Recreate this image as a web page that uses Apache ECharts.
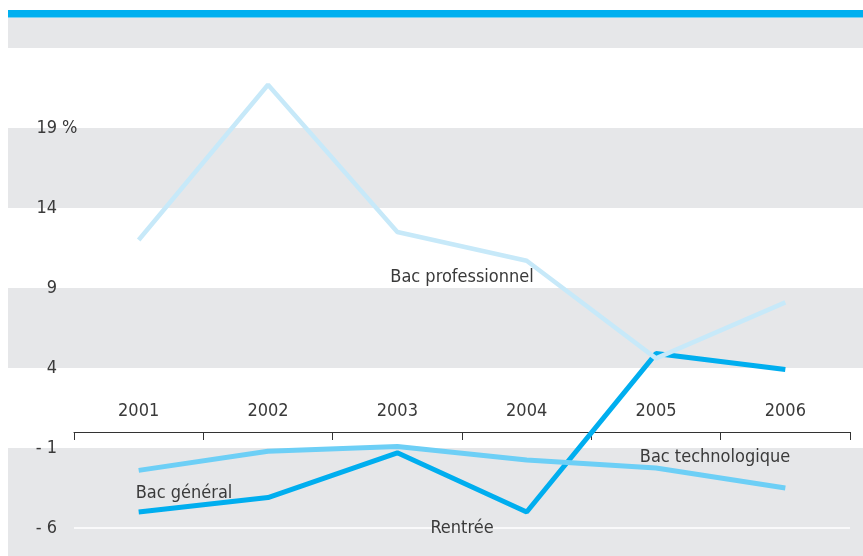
<!DOCTYPE html>
<html>
<head>
<meta charset="utf-8">
<script src="https://cdn.jsdelivr.net/npm/echarts@6/dist/echarts.min.js"></script>
<style>
  html, body { margin: 0; padding: 0; background: #fff; }
  #chart { width: 863px; height: 556px; }
</style>
</head>
<body>
<div id="chart"></div>
<script>
var years = ['2001', '2002', '2003', '2004', '2005', '2006'];
var bacPro = [12.0, 21.7, 12.5, 10.7, 4.6, 8.1];
var bacTechno = [-2.4, -1.2, -0.9, -1.75, -2.25, -3.5];
var bacGeneral = [-5.0, -4.1, -1.3, -5.0, 4.9, 3.9];
var yTicks = [19, 14, 9, 4, -1, -6];
// grey bands behind the plot (value ranges)
var bands = [[24, 25.9], [14, 19], [4, 9], [-7.75, -1]];

var yMin = -7.75, yMax = 26.375;
var font = "'DejaVu Sans Condensed', 'Liberation Sans Narrow', sans-serif";
var fs = 18;
var txt = '#3a3a3a';

var chart = echarts.init(document.getElementById('chart'));
var option = {
    backgroundColor: '#fff',
    animation: false,
    grid: { left: 74, right: 13, top: 10, bottom: 0, containLabel: false },
    xAxis: {
        type: 'category',
        data: years,
        boundaryGap: true,
        // axis sits on y = 0 : shift it up from the grid bottom
        offset: -(0 - yMin) * 546 / (yMax - yMin),
        axisLine: { onZero: false, lineStyle: { color: '#333', width: 1 } },
        axisTick: { show: true, inside: false, length: 8, lineStyle: { color: '#333' } },
        axisLabel: { inside: true, margin: 12, fontSize: fs, fontFamily: font, color: txt },
        splitLine: { show: false }
    },
    yAxis: {
        type: 'value',
        min: yMin,
        max: yMax,
        axisLine: { show: false },
        axisTick: { show: false },
        splitLine: { show: false },
        axisLabel: {
            customValues: yTicks,
            margin: 17,
            fontSize: fs,
            fontFamily: font,
            color: txt,
            formatter: function (v) { return v < 0 ? '- ' + (-v) : '' + v; }
        }
    },
    series: [
        {
            name: 'Bac général', type: 'line', data: bacGeneral, symbol: 'none',
            lineStyle: { color: '#00aeef', width: 5 }, z: 3,
            markLine: {
                silent: true, symbol: 'none', label: { show: false },
                lineStyle: { color: '#fff', width: 1.5, type: 'solid' },
                data: [{ yAxis: -6 }]
            }
        },
        {
            name: 'Bac technologique', type: 'line', data: bacTechno, symbol: 'none',
            lineStyle: { color: '#6dcff6', width: 5 }, z: 4
        },
        {
            name: 'Bac professionnel', type: 'line', data: bacPro, symbol: 'none',
            lineStyle: { color: '#c7e9f9', width: 4.5 }, z: 5
        }
    ]
};
chart.setOption(option);

function py(v) { return chart.convertToPixel({ yAxisIndex: 0 }, v); }

var gfx = [];
bands.forEach(function (b) {
    var y1 = py(b[1]), y0 = py(b[0]);
    gfx.push({ type: 'rect', z: -1, silent: true,
        shape: { x: 8, y: y1, width: 855, height: y0 - y1 },
        style: { fill: '#e6e7e9' } });
});
gfx.push({ type: 'rect', z: -1, silent: true,
    shape: { x: 8, y: py(yMax), width: 855, height: py(25.9) - py(yMax) },
    style: { fill: '#00b0f0' } });
gfx.push({ type: 'text', x: 62, y: py(19), z: 10,
    style: { text: '%', font: fs + 'px ' + font, fill: txt, verticalAlign: 'middle' } });

var labels = [
    ['Bac professionnel', 462, 277],
    ['Bac technologique', 715, 457],
    ['Bac général', 184, 493],
    ['Rentrée', 462, 528]
];
labels.forEach(function (l) {
    gfx.push({ type: 'text', x: l[1], y: l[2], z: 10,
        style: { text: l[0], font: fs + 'px ' + font, fill: txt, align: 'center', verticalAlign: 'middle' } });
});
chart.setOption({ graphic: gfx });
</script>
</body>
</html>
